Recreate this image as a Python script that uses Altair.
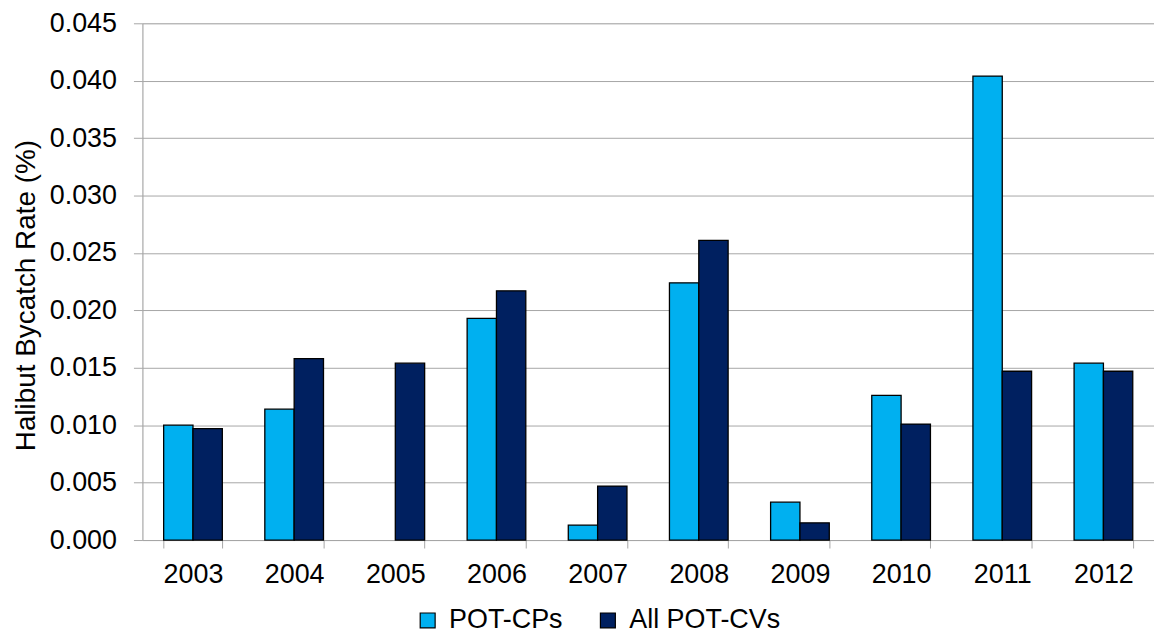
import altair as alt
import pandas as pd

years = ["2003", "2004", "2005", "2006", "2007", "2008", "2009", "2010", "2011", "2012"]
pot_cps = [0.0100, 0.0114, 0.0, 0.0193, 0.0013, 0.0224, 0.0033, 0.0126, 0.0404, 0.0154]
all_pot_cvs = [0.0097, 0.0158, 0.0154, 0.0217, 0.0047, 0.0261, 0.0015, 0.0101, 0.0147, 0.0147]
series_names = ["POT-CPs", "All POT-CVs"]
series_colors = ["#00B0F0", "#002060"]
y_ticks = [0.000, 0.005, 0.010, 0.015, 0.020, 0.025, 0.030, 0.035, 0.040, 0.045]

rows = []
for i, yr in enumerate(years):
    rows.append({"year": yr, "series": series_names[0], "value": pot_cps[i]})
    rows.append({"year": yr, "series": series_names[1], "value": all_pot_cvs[i]})
df = pd.DataFrame(rows)

FONT = "Liberation Sans"
GRID = "#A6A6A6"

chart = (
    alt.Chart(df)
    .transform_filter("datum.value > 0")
    .mark_bar(stroke="black", strokeWidth=1.3)
    .encode(
        x=alt.X(
            "year:N",
            sort=years,
            scale=alt.Scale(paddingInner=0.42, paddingOuter=0.21),
            axis=alt.Axis(
                title=None,
                labelAngle=0,
                labelFont=FONT,
                labelFontSize=27,
                labelColor="black",
                labelPadding=14,
                tickBand="extent",
                tickSize=8,
                tickColor=GRID,
                domainColor=GRID,
                grid=False,
            ),
        ),
        xOffset=alt.XOffset("series:N", sort=series_names, scale=alt.Scale(paddingInner=0, paddingOuter=0)),
        y=alt.Y(
            "value:Q",
            scale=alt.Scale(domain=[0, 0.045], nice=False),
            axis=alt.Axis(
                title="Halibut Bycatch Rate (%)",
                titleFont=FONT,
                titleFontSize=28,
                titleFontWeight="normal",
                titleColor="black",
                titleAngle=270,
                titleAlign="center",
                titleBaseline="alphabetic",
                titleX=-108,
                titleY=273,
                values=y_ticks,
                format=".3f",
                labelFont=FONT,
                labelFontSize=27,
                labelColor="black",
                labelPadding=17,
                tickSize=9,
                tickColor=GRID,
                domainColor=GRID,
                gridColor=GRID,
                gridWidth=1,
            ),
        ),
        color=alt.Color(
            "series:N",
            sort=series_names,
            scale=alt.Scale(domain=series_names, range=series_colors),
            legend=alt.Legend(
                title=None,
                orient="none",
                direction="horizontal",
                legendX=273,
                legendY=586,
                padding=0,
                symbolType="square",
                symbolSize=225,
                symbolStrokeColor="black",
                symbolStrokeWidth=1.2,
                symbolOpacity=1,
                labelFont=FONT,
                labelFontSize=27,
                labelColor="black",
                labelOffset=8,
                columnPadding=31,
            ),
        ),
    )
    .properties(
        width=1016,
        height=519,
        autosize=alt.AutoSizeParams(type="none"),
        padding={"left": 135, "top": 14, "right": 0, "bottom": 92},
    )
    .configure_view(stroke=None)
    .configure(background="white")
)

chart.save("out.html", embed_options={"renderer": "svg", "actions": False})
